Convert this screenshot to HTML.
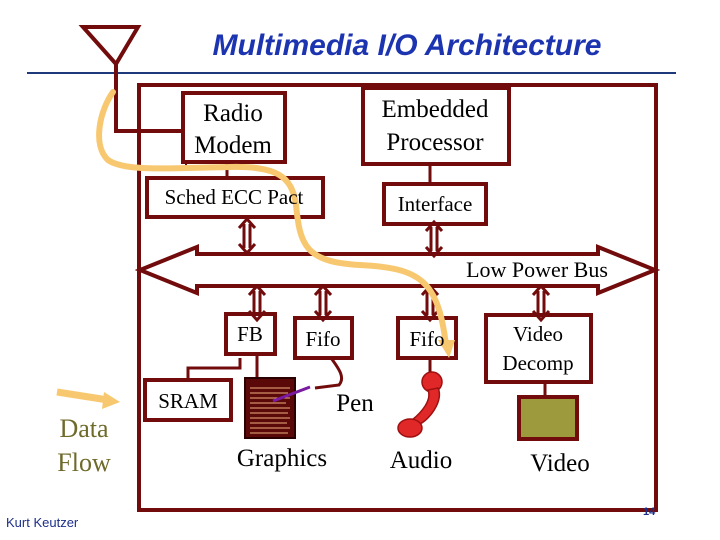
<!DOCTYPE html>
<html><head><meta charset="utf-8"><style>
html,body{margin:0;padding:0;background:#fff;}
svg{display:block;}
text{font-family:"Liberation Serif",serif;fill:#000;}
</style></head><body>
<svg width="720" height="540" viewBox="0 0 720 540" xmlns="http://www.w3.org/2000/svg">
<defs>
<g id="da" stroke="#720c0c" stroke-width="3" fill="none">
<line x1="-3" y1="6" x2="-3" y2="30"/><line x1="3" y1="6" x2="3" y2="30"/>
<polyline points="-8,10 0,1 8,10"/><polyline points="-8,26 0,35 8,26"/>
</g>
</defs>
<text x="407" y="55" text-anchor="middle" style="font-family:'Liberation Sans',sans-serif;font-weight:bold;font-style:italic;font-size:30px;fill:#1c34b0">Multimedia I/O Architecture</text>
<line x1="27" y1="73" x2="676" y2="73" stroke="#1f3a7a" stroke-width="2"/>
<g stroke="#720c0c" fill="none">
<polygon points="83,27 138,27 116,64" stroke-width="4"/>
<polyline points="116,64 116,131 183,131" stroke-width="4"/>
<rect x="139" y="85" width="517" height="425" stroke-width="4"/>
<rect x="183" y="93" width="102" height="69" stroke-width="4"/>
<line x1="186" y1="162" x2="186" y2="166" stroke-width="2"/>
<rect x="363" y="88" width="146" height="76" stroke-width="4"/>
<line x1="227" y1="162" x2="227" y2="178" stroke-width="3"/>
<rect x="147" y="178" width="176" height="39" stroke-width="4"/>
<line x1="430" y1="164" x2="430" y2="184" stroke-width="3"/>
<rect x="384" y="184" width="102" height="40" stroke-width="4"/>
<polygon points="140,270 197,247 197,254 598,254 598,247 655,270 598,293 598,286 197,286 197,293" stroke-width="4"/>
<rect x="226" y="314" width="49" height="40" stroke-width="4"/>
<rect x="295" y="318" width="57" height="40" stroke-width="4"/>
<rect x="398" y="318" width="58" height="40" stroke-width="4"/>
<rect x="486" y="315" width="105" height="67" stroke-width="4"/>
<rect x="145" y="380" width="86" height="40" stroke-width="4"/>
<polyline points="240,358 240,368 188,368 188,380" stroke-width="3"/>
<line x1="257" y1="354" x2="257" y2="377" stroke-width="3"/>
<path d="M331,358 C340,370 345,378 339,385 L315,388" stroke-width="3"/>
<line x1="430" y1="358" x2="430" y2="372" stroke-width="3"/>
<line x1="545" y1="382" x2="545" y2="397" stroke-width="3"/>
<rect x="519" y="397" width="58" height="42" stroke-width="4" fill="#9c9a3c"/>
</g>
<use href="#da" x="247" y="218"/>
<use href="#da" x="434" y="221"/>
<use href="#da" x="257" y="285"/>
<use href="#da" x="323" y="285"/>
<use href="#da" x="430" y="285"/>
<use href="#da" x="541" y="285"/>
<rect x="245" y="378" width="50" height="60" fill="#5a0808" stroke="#2a0000" stroke-width="2"/>
<g stroke="#f0b080" stroke-width="1">
<line x1="250" y1="388" x2="290" y2="388"/><line x1="250" y1="393" x2="288" y2="393"/><line x1="250" y1="398" x2="290" y2="398"/><line x1="250" y1="403" x2="286" y2="403"/><line x1="250" y1="408" x2="290" y2="408"/><line x1="250" y1="413" x2="288" y2="413"/><line x1="250" y1="418" x2="290" y2="418"/><line x1="250" y1="423" x2="287" y2="423"/><line x1="250" y1="428" x2="290" y2="428"/><line x1="250" y1="433" x2="288" y2="433"/>
</g>
<line x1="273" y1="401" x2="310" y2="387" stroke="#7a1aa0" stroke-width="3"/>
<g fill="#e02828" stroke="#a01010" stroke-width="1.5">
<ellipse cx="432" cy="382" rx="10" ry="10"/>
<path d="M438,388 C444,400 430,420 418,425 L412,420 C422,412 432,400 428,390 Z"/>
<ellipse cx="410" cy="428" rx="12" ry="9"/>
</g>
<path d="M113,92 C100,110 92,145 108,160 C125,172 170,168 230,167 C275,166 292,175 296,205 C300,245 305,262 360,265 C420,268 438,280 446,345" stroke="#f8c870" stroke-width="6" fill="none" stroke-linecap="round"/>
<polygon points="438,340 455,340 449,358" fill="#f8c870"/>
<path d="M57,392 L108,400" stroke="#f8c870" stroke-width="7"/>
<polygon points="104,392 120,402 102,409" fill="#f8c870"/>
<text x="233" y="121" text-anchor="middle" font-size="25">Radio</text>
<text x="233" y="153" text-anchor="middle" font-size="25">Modem</text>
<text x="435" y="117" text-anchor="middle" font-size="25">Embedded</text>
<text x="435" y="150" text-anchor="middle" font-size="25">Processor</text>
<text x="234" y="204" text-anchor="middle" font-size="21">Sched ECC Pact</text>
<text x="435" y="211" text-anchor="middle" font-size="21">Interface</text>
<text x="537" y="277" text-anchor="middle" font-size="22">Low Power Bus</text>
<text x="250" y="341" text-anchor="middle" font-size="21">FB</text>
<text x="323" y="346" text-anchor="middle" font-size="21">Fifo</text>
<text x="427" y="346" text-anchor="middle" font-size="21">Fifo</text>
<text x="538" y="341" text-anchor="middle" font-size="21">Video</text>
<text x="538" y="370" text-anchor="middle" font-size="21">Decomp</text>
<text x="188" y="408" text-anchor="middle" font-size="21">SRAM</text>
<text x="355" y="411" text-anchor="middle" font-size="25">Pen</text>
<text x="282" y="466" text-anchor="middle" font-size="25">Graphics</text>
<text x="421" y="468" text-anchor="middle" font-size="25">Audio</text>
<text x="560" y="471" text-anchor="middle" font-size="25">Video</text>
<text x="84" y="437" text-anchor="middle" font-size="26" style="fill:#6e6a2a">Data</text>
<text x="84" y="471" text-anchor="middle" font-size="26" style="fill:#6e6a2a">Flow</text>
<text x="6" y="527" font-size="13" style="font-family:'Liberation Sans',sans-serif;fill:#1c2f8a">Kurt Keutzer</text>
<text x="643" y="515" font-size="11" style="font-family:'Liberation Sans',sans-serif;font-weight:bold;fill:#1c2f8a">14</text>
</svg>
</body></html>
